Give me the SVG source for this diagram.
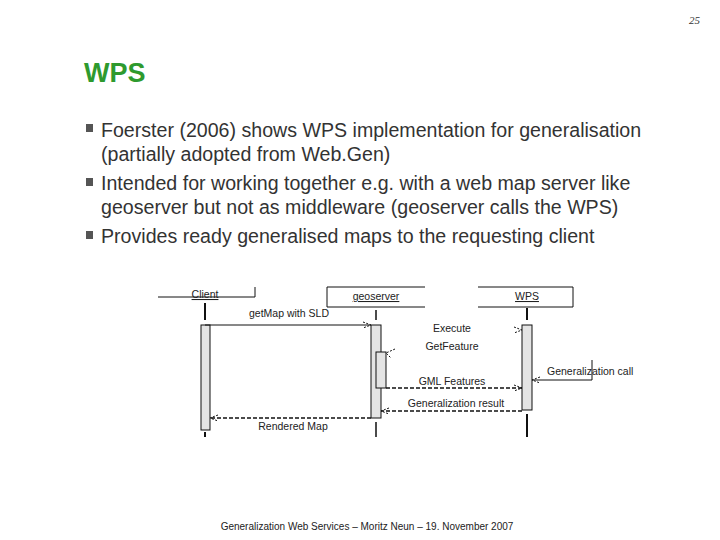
<svg xmlns="http://www.w3.org/2000/svg" width="720" height="540" viewBox="0 0 720 540">
<style>
.t{font-family:"Liberation Sans",Arial,sans-serif;fill:#222}
.b{font-size:19.6px;fill:#333}
.s{font-size:10.5px}
.l{stroke:#111;fill:none;stroke-width:1}
.d{stroke:#111;fill:none;stroke-width:1.3;stroke-dasharray:4 2}
.act{fill:#e4e4e4;stroke:#111;stroke-width:1}
.ah{stroke:#111;fill:none;stroke-width:1;stroke-dasharray:2 1.5}
</style>
<rect width="720" height="540" fill="#fff"/>
<text x="700" y="24" font-family="Liberation Serif,serif" font-style="italic" font-size="11" text-anchor="end" fill="#333">25</text>
<text x="84" y="82" class="t" font-size="27" font-weight="bold" style="fill:#2e9a2e">WPS</text>
<g fill="#555"><rect x="86" y="124" width="7" height="8"/><rect x="86" y="178" width="7" height="8"/><rect x="86" y="231" width="7" height="8"/></g>
<text class="t b" x="101" y="137">Foerster (2006) shows WPS implementation for generalisation</text>
<text class="t b" x="101" y="161">(partially adopted from Web.Gen)</text>
<text class="t b" x="101" y="190">Intended for working together e.g. with a web map server like</text>
<text class="t b" x="101" y="214">geoserver but not as middleware (geoserver calls the WPS)</text>
<text class="t b" x="101" y="243">Provides ready generalised maps to the requesting client</text>

<g id="client">
<path class="l" d="M158 297H255V287"/>
<text class="t s" x="205" y="298" text-anchor="middle" text-decoration="underline">Client</text>
<path d="M205 303V320M205 432V437" stroke="#111" stroke-width="2"/>
<rect class="act" x="201" y="325" width="9" height="105"/>
</g>
<g id="geoserver">
<path class="l" d="M425 287H327V307H425"/>
<text class="t s" x="376" y="300" text-anchor="middle" text-decoration="underline">geoserver</text>
<path d="M376 310V320M376 422V437" stroke="#111" stroke-width="1.5"/>
<rect class="act" x="371" y="325" width="10" height="93"/>
<rect x="376" y="352" width="10" height="36" fill="#e4e4e4" stroke="#111"/>
</g>
<g id="wps">
<path class="l" d="M478 287H573V307H478"/>
<text class="t s" x="527" y="300" text-anchor="middle" text-decoration="underline">WPS</text>
<path d="M527 308V320M527 414V437" stroke="#111" stroke-width="2"/>
<rect class="act" x="522" y="325" width="10" height="85"/>
</g>

<g id="connectors">
<path class="l" d="M205 325H371"/><path class="ah" d="M363 322L371 325L363 328"/>
<text class="t s" x="289" y="317" text-anchor="middle">getMap with SLD</text>
<path class="ah" d="M514 327L522 330L514 333"/>
<text class="t s" x="452" y="332" text-anchor="middle">Execute</text>
<path class="ah" d="M395 349L386 353L391 358"/>
<text class="t s" x="452" y="350" text-anchor="middle">GetFeature</text>
<path class="d" d="M386 388H522"/><path class="ah" d="M514 385L522 388L514 391"/>
<text class="t s" x="452" y="385" text-anchor="middle">GML Features</text>
<path class="l" d="M592 360V380H532"/><path class="ah" d="M540 377L532 380L540 383"/>
<text class="t s" x="547" y="375">Generalization call</text>
<path class="d" d="M522 411H381"/><path class="ah" d="M389 408L381 411L389 414"/>
<text class="t s" x="456" y="407" text-anchor="middle">Generalization result</text>
<path class="d" d="M371 418H210"/><path class="ah" d="M218 415L210 418L218 421"/>
<text class="t s" x="293" y="430" text-anchor="middle">Rendered Map</text>
</g>
<text class="t" x="367" y="530" font-size="10" text-anchor="middle">Generalization Web Services – Moritz Neun – 19. November 2007</text>
</svg>
